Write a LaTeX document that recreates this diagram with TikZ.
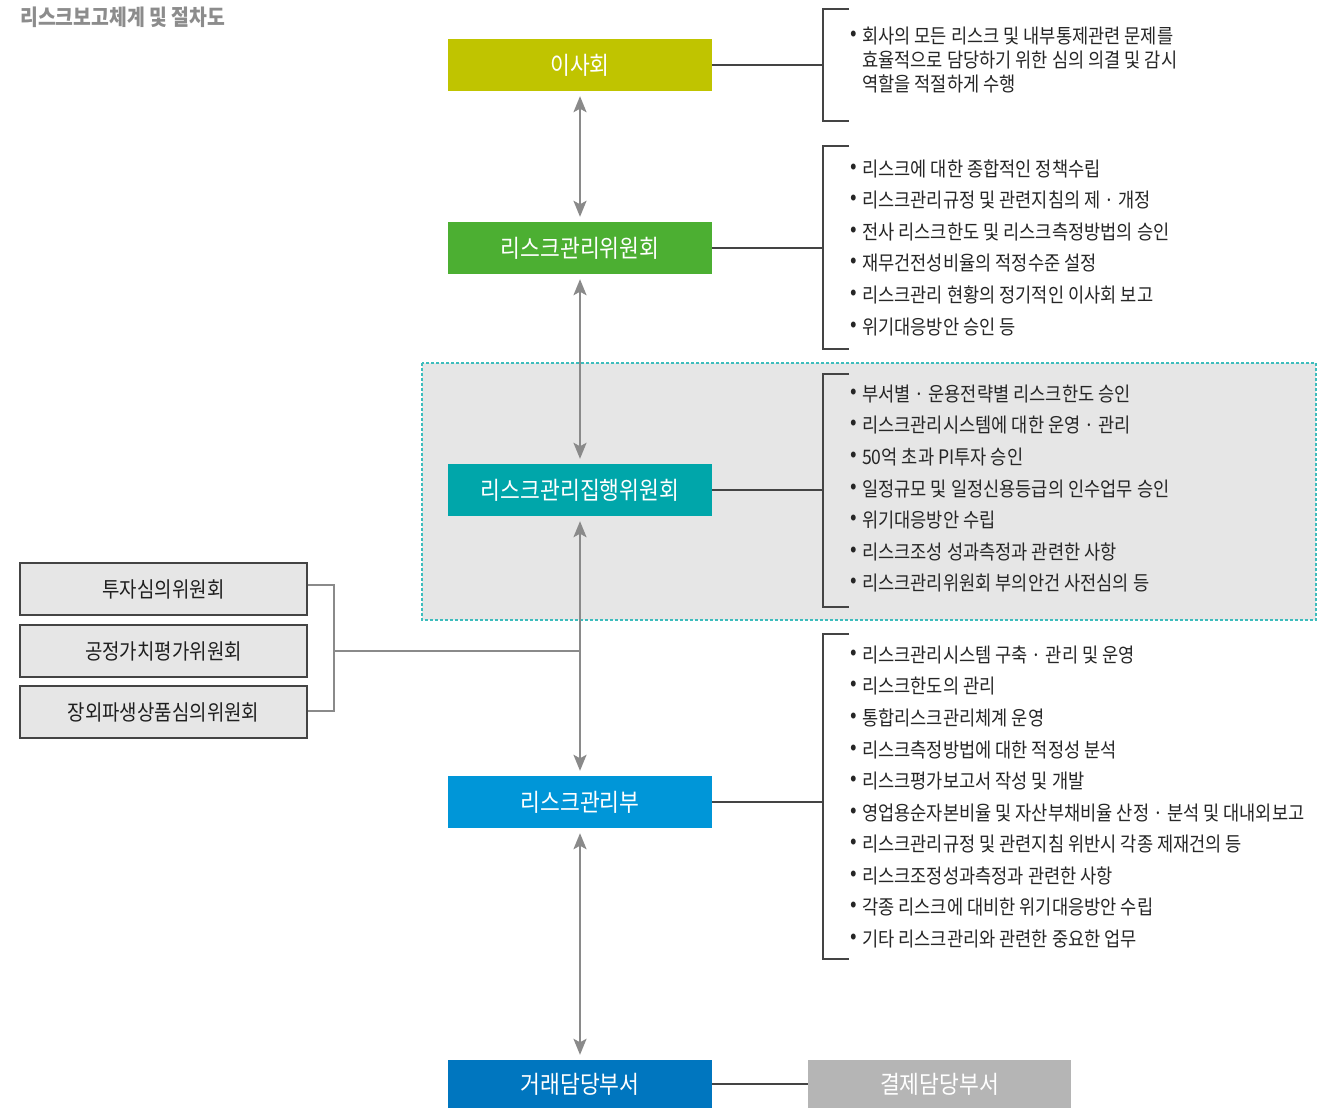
\documentclass[tikz,border=0pt]{standalone}
\usepackage{fontspec}
\usetikzlibrary{arrows.meta}
\newfontfamily\kr{Noto Sans CJK KR}[FakeStretch=0.88]
\definecolor{cOlive}{HTML}{C0C400}
\definecolor{cGreen}{HTML}{4CAF32}
\definecolor{cTeal}{HTML}{00A6AA}
\definecolor{cBlue}{HTML}{0096D8}
\definecolor{cDark}{HTML}{0076BF}
\definecolor{cSettle}{HTML}{B5B5B5}
\definecolor{cLight}{HTML}{E6E6E6}
\definecolor{cDash}{HTML}{3DBDBD}
\definecolor{cArr}{HTML}{8A8A8A}
\definecolor{cLine}{HTML}{444444}
\definecolor{cText}{HTML}{262626}
\definecolor{cTitle}{HTML}{8C8C8C}
\tikzset{
  mainbox/.style={minimum width=264pt,minimum height=52pt,inner sep=0pt,text=white,font=\kr\fontsize{24.5}{28}\selectfont},
  sidebox/.style={draw=cLine,line width=1.3pt,fill=cLight,minimum width=287pt,minimum height=52pt,inner sep=0pt,text=black!88,font=\kr\fontsize{21.5}{25}\selectfont},
  item/.style={anchor=west,inner sep=0pt,text=cText,font=\kr\fontsize{20}{24}\selectfont},
  bul/.style={inner sep=0pt,text=cText,font=\kr\fontsize{22}{24}\selectfont},
  arr/.style={draw=cArr,line width=2.2pt,{Stealth[length=16pt,width=13pt,inset=3.5pt]}-{Stealth[length=16pt,width=13pt,inset=3.5pt]},shorten <=5pt,shorten >=5pt},
  conn/.style={draw=cLine,line width=1.1pt},
  gconn/.style={draw=cArr,line width=2pt},
}
\begin{document}
\begin{tikzpicture}[x=1pt,y=-1pt]
\useasboundingbox (0,0) rectangle (1328,1109);
\fill[white] (0,0) rectangle (1328,1109);
% title
\node[anchor=west,inner sep=0pt,text=cTitle,font=\kr\bfseries\fontsize{22}{26}\selectfont] (title) at (20,17) {리스크보고체계 및 절차도};
% dashed region
\draw[fill=cLight,draw=cDash,line width=1.2pt,dash pattern=on 3pt off 2pt] (422,363) rectangle (1316,620);
% main boxes
\node[mainbox,fill=cOlive] (board) at (580,65) {이사회};
\node[mainbox,fill=cGreen] (rmc) at (580,248) {리스크관리위원회};
\node[mainbox,fill=cTeal] (exec) at (580,490) {리스크관리집행위원회};
\node[mainbox,fill=cBlue] (rmd) at (580,802) {리스크관리부};
\node[mainbox,fill=cDark,minimum height=48pt] (trade) at (580,1084) {거래담당부서};
\node[mainbox,fill=cSettle,minimum width=263pt,minimum height=48pt] (settle) at (939.5,1084) {결제담당부서};
% side boxes
\node[sidebox] (s1) at (163.5,589) {투자심의위원회};
\node[sidebox] (s2) at (163.5,651) {공정가치평가위원회};
\node[sidebox] (s3) at (163.5,712) {장외파생상품심의위원회};
% vertical arrows
\draw[arr] (board.south) -- (rmc.north);
\draw[arr] (rmc.south) -- (exec.north);
\draw[arr] (exec.south) -- (rmd.north);
\draw[arr] (rmd.south) -- (trade.north);
% side connectors
\coordinate (lt) at (334,585);
\coordinate (lb) at (334,711);
\coordinate (lm) at (334,651);
\coordinate (jm) at (580,651);
\draw[gconn] (s1.east |- lt) -- (lt) -- (lb) -- (s3.east |- lb);
\draw[gconn] (lm) -- (jm);
% trade - settle
\draw[conn] (trade.east) -- (settle.west);
% right brackets
\coordinate (b1) at (823,65);
\coordinate (b2) at (823,248);
\coordinate (b3) at (823,491);
\coordinate (b4) at (823,798);
\draw[conn] (849,9) -- (823,9) -- (823,121) -- (849,121);
\draw[conn] (849,146) -- (823,146) -- (823,349) -- (849,349);
\draw[conn] (849,374) -- (823,374) -- (823,607) -- (849,607);
\draw[conn] (849,634) -- (823,634) -- (823,959) -- (849,959);
\draw[conn] (board.east) -- (board.east -| b1);
\draw[conn] (rmc.east) -- (rmc.east -| b2);
\draw[conn] (exec.east) -- (exec.east -| b3);
\draw[conn] (rmd.east) -- (rmd.east -| b4);
% bracket 1 text
\node[bul] (u1) at (854,36) {•};
\node[item] (a1) at (862,36) {회사의 모든 리스크 및 내부통제관련 문제를};
\node[item] (a2) at (862,60) {효율적으로 담당하기 위한 심의 의결 및 감시};
\node[item] (a3) at (862,84) {역할을 적절하게 수행};
% bracket 2 text
\foreach \y/\t [count=\i] in {169/리스크에 대한 종합적인 정책수립,
  200/리스크관리규정 및 관련지침의 제 · 개정,
  232/전사 리스크한도 및 리스크측정방법의 승인,
  263/재무건전성비율의 적정수준 설정,
  295/리스크관리 현황의 정기적인 이사회 보고,
  327/위기대응방안 승인 등}{
  \node[bul] (ub\i) at (854,\y) {•};
  \node[item] (b\i) at (862,\y) {\t};
}
% bracket 3 text
\foreach \y/\t [count=\i] in {394/부서별 · 운용전략별 리스크한도 승인,
  425/리스크관리시스템에 대한 운영 · 관리,
  457/50억 초과 PI투자 승인,
  489/일정규모 및 일정신용등급의 인수업무 승인,
  520/위기대응방안 수립,
  552/리스크조성 성과측정과 관련한 사항,
  583/리스크관리위원회 부의안건 사전심의 등}{
  \node[bul] (uc\i) at (854,\y) {•};
  \node[item] (c\i) at (862,\y) {\t};
}
% bracket 4 text
\foreach \y/\t [count=\i] in {655/리스크관리시스템 구축 · 관리 및 운영,
  686/리스크한도의 관리,
  718/통합리스크관리체계 운영,
  750/리스크측정방법에 대한 적정성 분석,
  781/리스크평가보고서 작성 및 개발,
  813/영업용순자본비율 및 자산부채비율 산정 · 분석 및 대내외보고,
  844/리스크관리규정 및 관련지침 위반시 각종 제재건의 등,
  876/리스크조정성과측정과 관련한 사항,
  907/각종 리스크에 대비한 위기대응방안 수립,
  939/기타 리스크관리와 관련한 중요한 업무}{
  \node[bul] (ud\i) at (854,\y) {•};
  \node[item] (d\i) at (862,\y) {\t};
}
\end{tikzpicture}
\end{document}
